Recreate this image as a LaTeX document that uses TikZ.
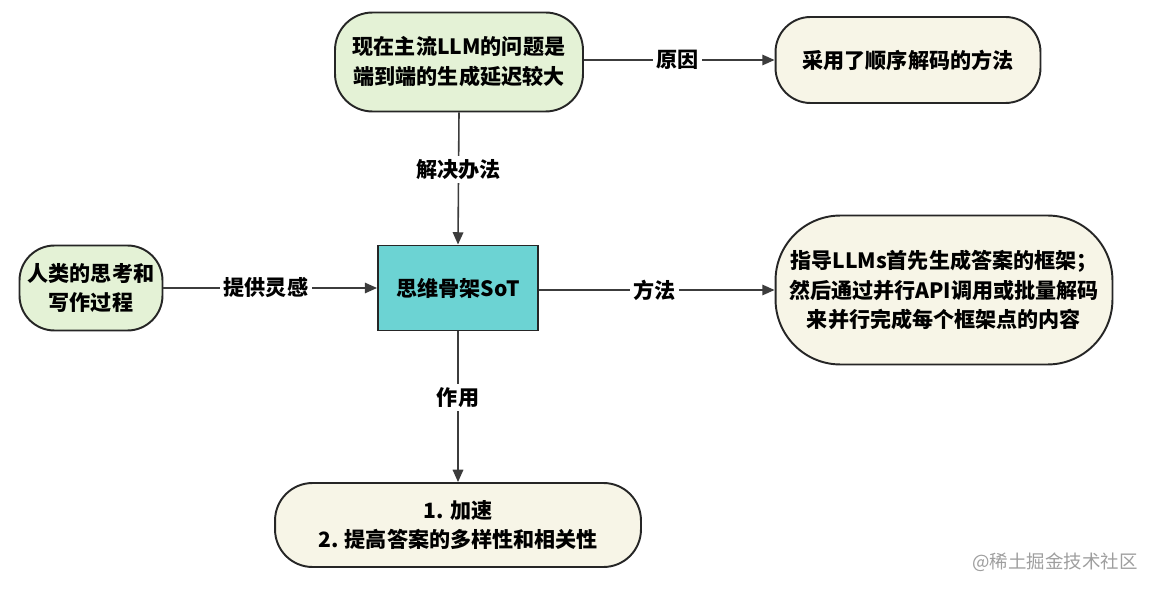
\documentclass[tikz,border=0pt]{standalone}
\usepackage{fontspec}
\setmainfont{Noto Sans CJK SC}
\usetikzlibrary{arrows.meta}
\definecolor{boxgreen}{HTML}{E4F2D6}
\definecolor{boxcream}{HTML}{F7F5E7}
\definecolor{boxteal}{HTML}{6CD3D3}
\definecolor{edge}{HTML}{262626}

\begin{document}
\begin{tikzpicture}[x=0.02cm,y=-0.02cm,
  font=\fontsize{12}{17}\selectfont\bfseries,
  box/.style={draw=edge,line width=1.1pt,align=center,inner sep=2pt},
  greenbox/.style={box,fill=boxgreen},
  creambox/.style={box,fill=boxcream},
  link/.style={draw=edge!90,line width=0.9pt,-{Triangle[length=7pt,width=6pt]}},
  tag/.style={fill=white,inner sep=2pt}]
\useasboundingbox (0,0) rectangle (1153,591);
% nodes
\node[greenbox,rounded corners=0.75cm,minimum width=4.96cm,minimum height=1.98cm] (problem) at (459,62) {现在主流LLM的问题是\\端到端的生成延迟较大};
\node[creambox,rounded corners=0.7cm,minimum width=5.3cm,minimum height=1.72cm] (reason) at (908,60) {采用了顺序解码的方法};
\node[greenbox,rounded corners=0.7cm,minimum width=2.86cm,minimum height=1.7cm] (human) at (91,288) {人类的思考和\\写作过程};
\node[box,fill=boxteal,minimum width=3.2cm,minimum height=1.7cm] (sot) at (458,288) {思维骨架SoT};
\node[creambox,rounded corners=1.3cm,minimum width=6.74cm,minimum height=2.98cm] (method) at (944,290) {指导LLMs首先生成答案的框架；\\然后通过并行API调用或批量解码\\来并行完成每个框架点的内容};
\node[creambox,rounded corners=0.75cm,minimum width=7.32cm,minimum height=1.68cm] (effect) at (458,525) {1. 加速\\2. 提高答案的多样性和相关性};
% connectors
\draw[link] (problem.east |- reason) -- (reason.west) node[tag,pos=0.49] {原因};
\draw[link] (problem.south) -- (sot.north) node[tag,pos=0.43] {解决办法};
\draw[link] (human.east) -- (sot.west) node[tag,pos=0.48] {提供灵感};
\draw[link] (sot.east |- method) -- (method.west) node[tag,pos=0.49] {方法};
\draw[link] (sot.south) -- (effect.north) node[tag,pos=0.44] {作用};
% watermark
\node[font=\fontsize{10.5}{12}\selectfont,text=black!38] (mark) at (1055,562) {@稀土掘金技术社区};
\end{tikzpicture}
\end{document}
